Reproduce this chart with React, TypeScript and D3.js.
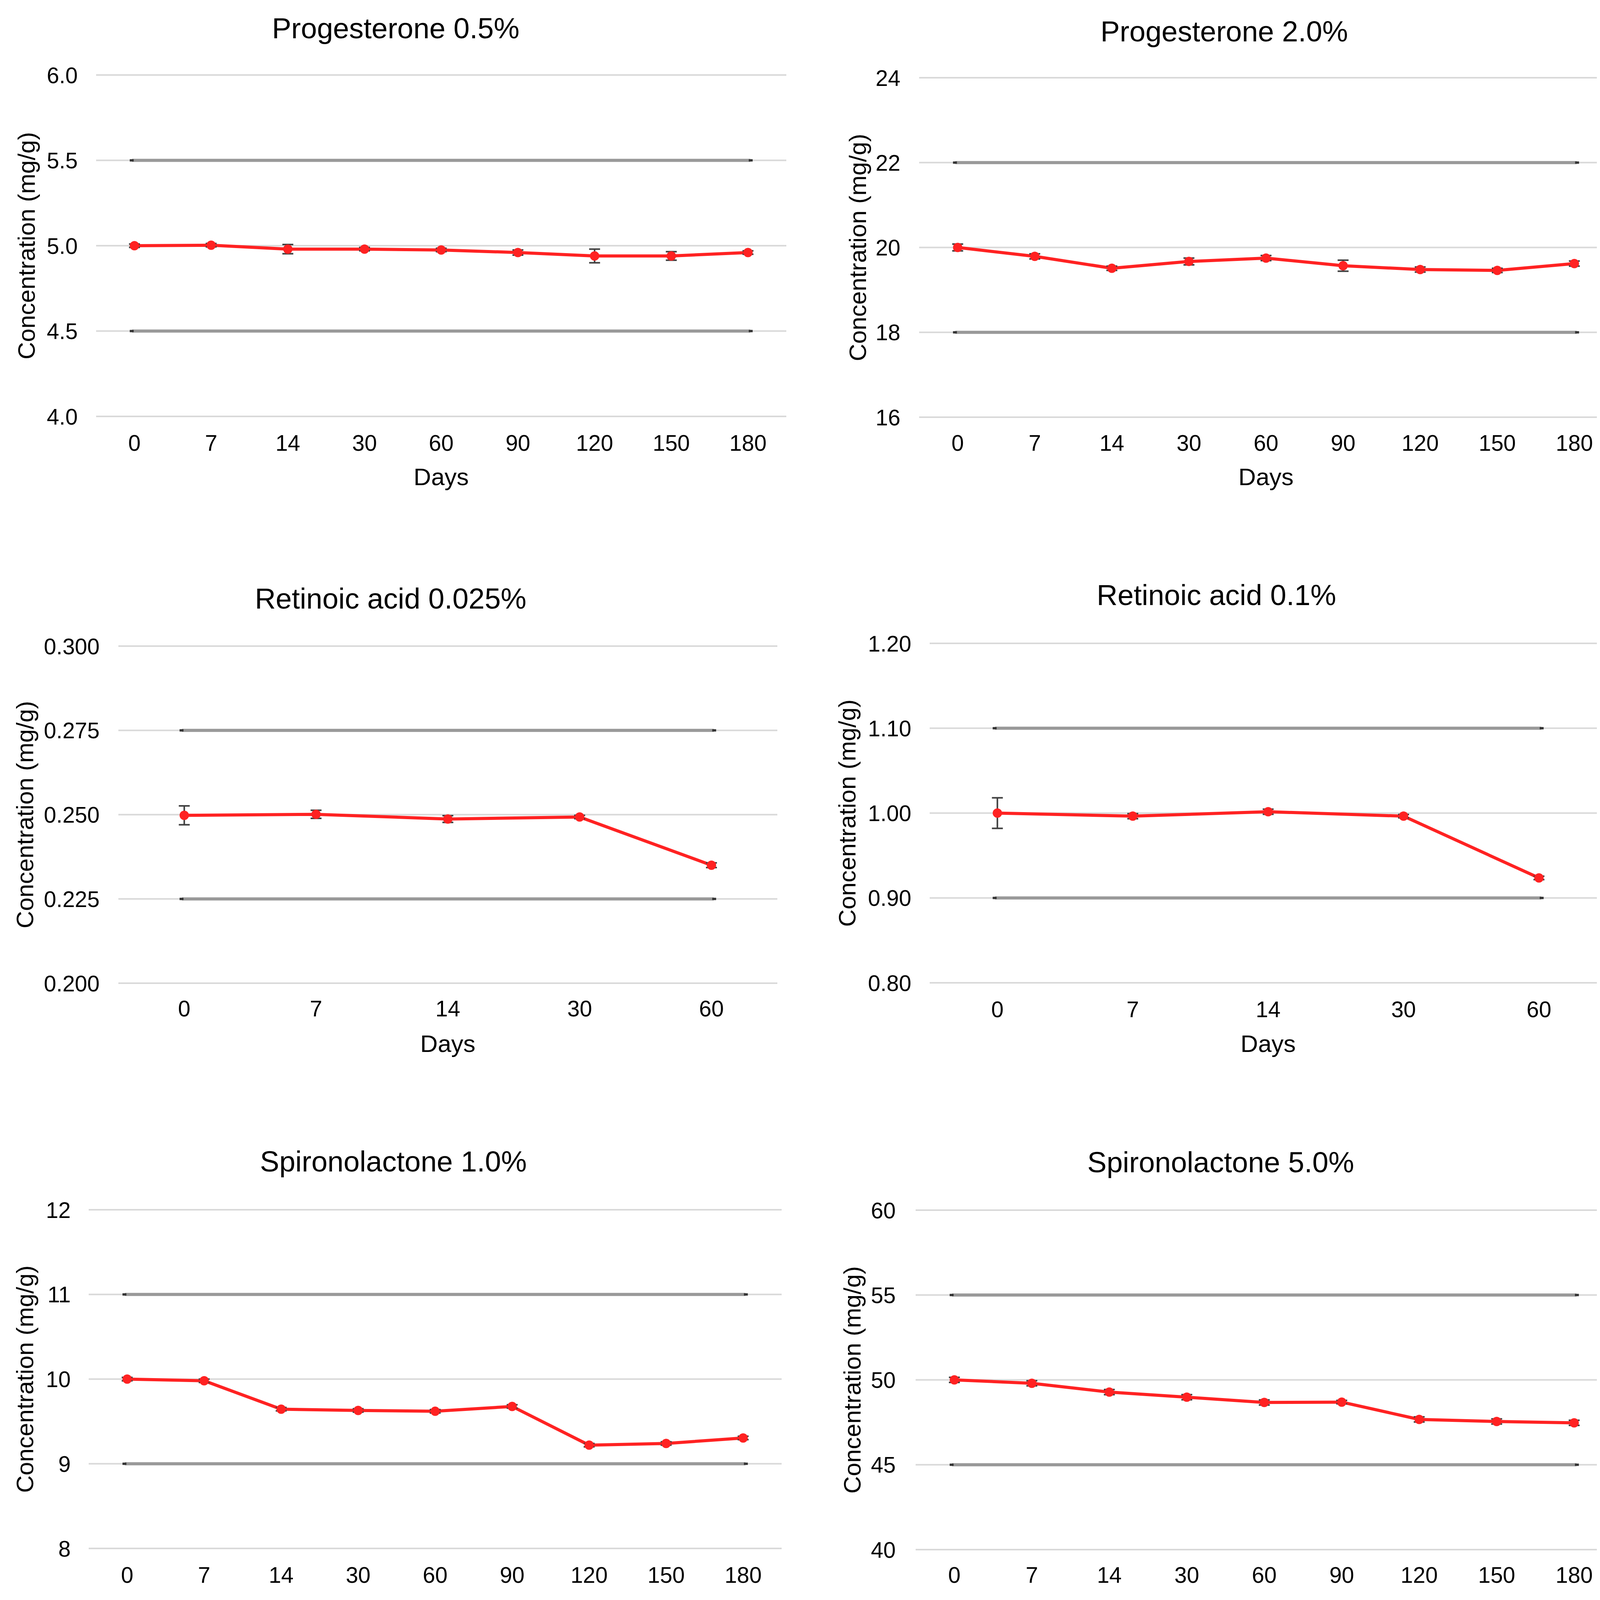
import React from "react";
import { scaleLinear, scalePoint, line, format } from "d3";

// category labels (days)
const days9 = ["0", "7", "14", "30", "60", "90", "120", "150", "180"];
const days5 = ["0", "7", "14", "30", "60"];

const titles = [
  "Progesterone 0.5%",
  "Progesterone 2.0%",
  "Retinoic acid 0.025%",
  "Retinoic acid 0.1%",
  "Spironolactone 1.0%",
  "Spironolactone 5.0%",
  "Tranexamic acid 1.0%",
  "Tranexamic acid 5.0%",
];

// mean concentration (mg/g) and std dev
const prog05 = [5.0, 5.003, 4.98, 4.98, 4.975, 4.96, 4.94, 4.94, 4.96];
const prog05Err = [0.01, 0.01, 0.027, 0.01, 0.01, 0.015, 0.04, 0.025, 0.01];
const prog20 = [20.0, 19.79, 19.51, 19.67, 19.75, 19.57, 19.48, 19.46, 19.62];
const prog20Err = [0.08, 0.06, 0.05, 0.08, 0.06, 0.13, 0.06, 0.05, 0.06];
const ret0025 = [0.2498, 0.2501, 0.2487, 0.2493, 0.235];
const ret0025Err = [0.0028, 0.0012, 0.001, 0.0005, 0.0007];
const ret01 = [1.0, 0.9964, 1.0016, 0.9964, 0.9236];
const ret01Err = [0.018, 0.003, 0.003, 0.002, 0.002];
const spiro10 = [10.0, 9.98, 9.645, 9.63, 9.62, 9.677, 9.22, 9.24, 9.305];
const spiro10Err = [0.02, 0.02, 0.02, 0.02, 0.02, 0.02, 0.02, 0.02, 0.02];
const spiro50 = [50.0, 49.8, 49.28, 48.98, 48.67, 48.69, 47.67, 47.55, 47.47];
const spiro50Err = [0.15, 0.15, 0.15, 0.15, 0.15, 0.1, 0.15, 0.15, 0.15];
const tran10 = [10.0, 9.97, 9.913, 9.862, 9.873, 9.909, 9.889, 9.889, 9.968];
const tran10Err = [0.087, 0.083, 0.045, 0.083, 0.07, 0.144, 0.09, 0.07, 0.227];
const tran50 = [50.0, 50.16, 50.18, 50.53, 50.36, 50.38, 50.38, 50.53, 50.44];
const tran50Err = [0.45, 0.34, 0.32, 0.44, 0.1, 0.64, 0.45, 0.25, 0.2];

// specification limits (lower, upper)
const specLimits = [
  [4.5, 5.5],
  [18, 22],
  [0.225, 0.275],
  [0.9, 1.1],
  [9, 11],
  [45, 55],
  [9, 11],
  [45, 55],
];

// y axis ticks
const ticksProg05 = [4.0, 4.5, 5.0, 5.5, 6.0];
const ticksProg20 = [16, 18, 20, 22, 24];
const ticksRet0025 = [0.2, 0.225, 0.25, 0.275, 0.3];
const ticksRet01 = [0.8, 0.9, 1.0, 1.1, 1.2];
const ticksSpiro10 = [8, 9, 10, 11, 12];
const ticksSpiro50 = [40, 45, 50, 55, 60];
const ticksTran10 = [8, 9, 10, 11, 12];
const ticksTran50 = [40, 45, 50, 55, 60];

const series = [
  { cats: days9, vals: prog05, errs: prog05Err, ticks: ticksProg05, fmt: ".1f" },
  { cats: days9, vals: prog20, errs: prog20Err, ticks: ticksProg20, fmt: "d" },
  { cats: days5, vals: ret0025, errs: ret0025Err, ticks: ticksRet0025, fmt: ".3f" },
  { cats: days5, vals: ret01, errs: ret01Err, ticks: ticksRet01, fmt: ".2f" },
  { cats: days9, vals: spiro10, errs: spiro10Err, ticks: ticksSpiro10, fmt: "d" },
  { cats: days9, vals: spiro50, errs: spiro50Err, ticks: ticksSpiro50, fmt: "d" },
  { cats: days9, vals: tran10, errs: tran10Err, ticks: ticksTran10, fmt: "d" },
  { cats: days9, vals: tran50, errs: tran50Err, ticks: ticksTran50, fmt: "d" },
];

// panel geometry (pixels)
const layout = [
  { x0: 246, x1: 2013, yTop: 192, yBot: 1066, titleX: 1013, titleY: 98, labR: 199, yTitleX: 67, xLabY: 1154, daysY: 1242 },
  { x0: 2353, x1: 4129, yTop: 199, yBot: 1068, titleX: 3134, titleY: 106, labR: 2305, yTitleX: 2195, xLabY: 1154, daysY: 1242 },
  { x0: 303, x1: 1990, yTop: 1654, yBot: 2517, titleX: 1000, titleY: 1558, labR: 255, yTitleX: 63, xLabY: 2602, daysY: 2693 },
  { x0: 2380, x1: 4113, yTop: 1647, yBot: 2516, titleX: 3114, titleY: 1549, labR: 2333, yTitleX: 2168, xLabY: 2604, daysY: 2693 },
  { x0: 227, x1: 2001, yTop: 3097, yBot: 3964, titleX: 1007, titleY: 2999, labR: 181, yTitleX: 63, xLabY: 4052, daysY: 4143 },
  { x0: 2344, x1: 4129, yTop: 3098, yBot: 3967, titleX: 3125, titleY: 3001, labR: 2293, yTitleX: 2181, xLabY: 4052, daysY: 4143 },
  { x0: 230, x1: 2021, yTop: 4550, yBot: 5422, titleX: 1016, titleY: 4454, labR: 181, yTitleX: 63, xLabY: 5508, daysY: 5598 },
  { x0: 2370, x1: 4159, yTop: 4551, yBot: 5422, titleX: 3154, titleY: 4454, labR: 2315, yTitleX: 2201, xLabY: 5508, daysY: 5598 },
];

const W = 4187;
const H = 5646;
const FONT = "'Liberation Sans', Arial, sans-serif";
const RED = "#ff2222";
const BAR = "#404040";

const Panel = ({ i }: { i: number }) => {
  const s = series[i];
  const g = layout[i];
  const x = scalePoint<string>().domain(s.cats).range([g.x0, g.x1]).padding(0.5);
  const y = scaleLinear()
    .domain([s.ticks[0], s.ticks[s.ticks.length - 1]])
    .range([g.yBot, g.yTop]);
  const fmt = format(s.fmt);
  const pts = s.vals.map((v, k) => ({ c: s.cats[k], v, e: s.errs[k] }));
  const path = line<{ c: string; v: number }>()
    .x((d) => x(d.c) as number)
    .y((d) => y(d.v))(pts);
  const first = x(s.cats[0]) as number;
  const last = x(s.cats[s.cats.length - 1]) as number;
  const cap = 14;

  return (
    <g>
      <text x={g.titleX} y={g.titleY} textAnchor="middle" fontSize={74} fill="#000">
        {titles[i]}
      </text>
      {s.ticks.map((t) => (
        <g key={t}>
          <line x1={g.x0} x2={g.x1} y1={y(t)} y2={y(t)} stroke="#d9d9d9" strokeWidth={4} />
          <text x={g.labR} y={y(t)} dy="0.36em" textAnchor="end" fontSize={57} fill="#000">
            {fmt(t)}
          </text>
        </g>
      ))}
      {specLimits[i].map((lim) => (
        <g key={lim}>
          <line x1={first - 6} x2={last + 6} y1={y(lim)} y2={y(lim)} stroke="#999999" strokeWidth={8} />
          <line x1={first - 12} x2={first - 2} y1={y(lim)} y2={y(lim)} stroke="#333333" strokeWidth={6} />
          <line x1={last + 2} x2={last + 12} y1={y(lim)} y2={y(lim)} stroke="#333333" strokeWidth={6} />
        </g>
      ))}
      {s.cats.map((c) => (
        <text key={c} x={x(c)} y={g.xLabY} textAnchor="middle" fontSize={57} fill="#000">
          {c}
        </text>
      ))}
      <text x={(g.x0 + g.x1) / 2} y={g.daysY} textAnchor="middle" fontSize={62} fill="#000">
        Days
      </text>
      <text
        transform={`translate(${g.yTitleX},${(g.yTop + g.yBot) / 2}) rotate(-90)`}
        dy="0.35em"
        textAnchor="middle"
        fontSize={62}
        fill="#000"
      >
        Concentration (mg/g)
      </text>
      <path d={path || ""} fill="none" stroke={RED} strokeWidth={8} strokeLinejoin="round" />
      {pts.map((d) => {
        const cx = x(d.c) as number;
        return (
          <g key={d.c}>
            <line x1={cx} x2={cx} y1={y(d.v - d.e)} y2={y(d.v + d.e)} stroke={BAR} strokeWidth={4} />
            <line x1={cx - cap} x2={cx + cap} y1={y(d.v + d.e)} y2={y(d.v + d.e)} stroke={BAR} strokeWidth={4} />
            <line x1={cx - cap} x2={cx + cap} y1={y(d.v - d.e)} y2={y(d.v - d.e)} stroke={BAR} strokeWidth={4} />
            <circle cx={cx} cy={y(d.v)} r={12} fill={RED} />
          </g>
        );
      })}
    </g>
  );
};

export default function App() {
  return (
    <svg
      width={W}
      height={H}
      style={{ display: "block", margin: "-8px", background: "#fff" }}
      fontFamily={FONT}
    >
      <rect width={W} height={H} fill="#fff" />
      {series.map((_, i) => (
        <Panel key={i} i={i} />
      ))}
    </svg>
  );
}
